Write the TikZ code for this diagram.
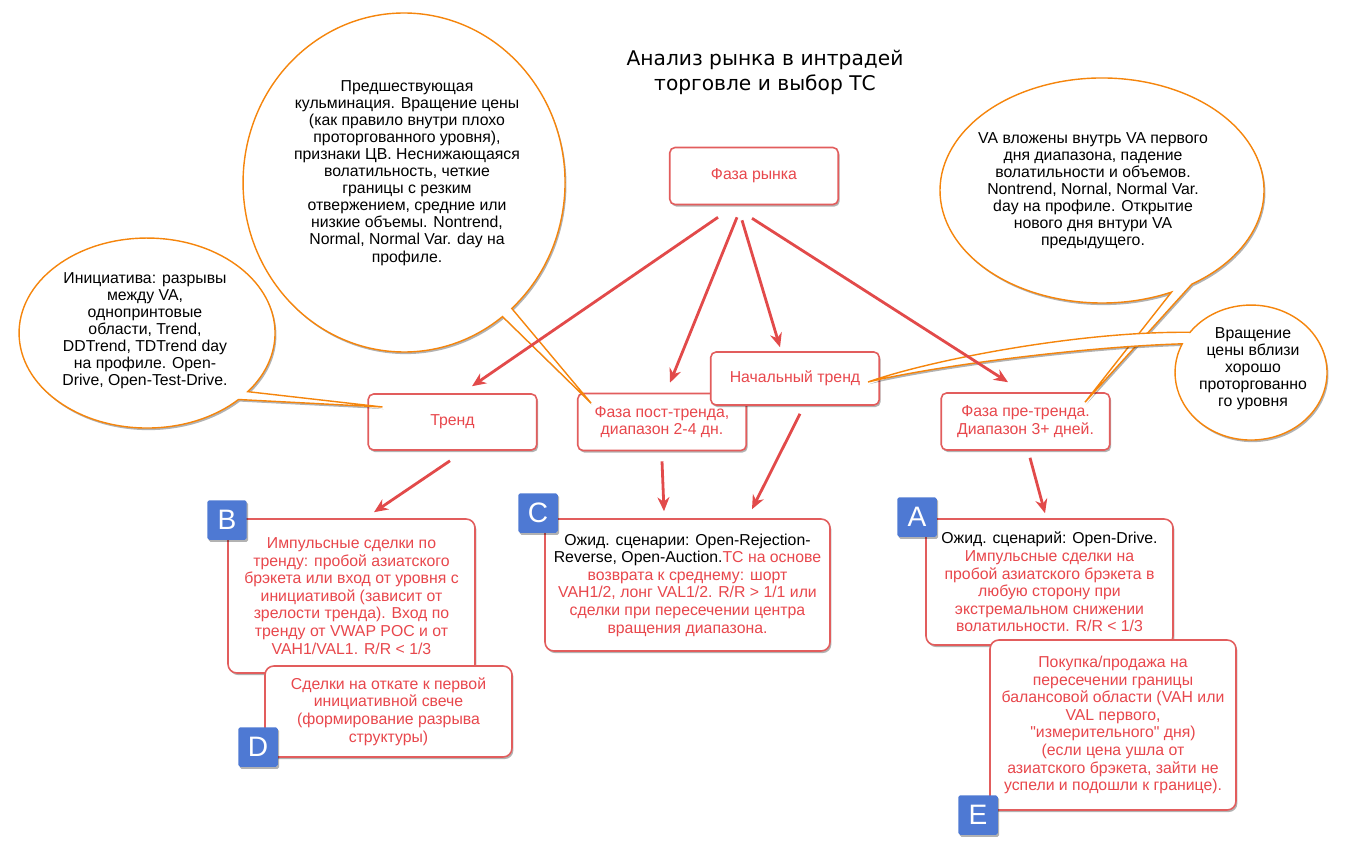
\documentclass[tikz,border=0pt]{standalone}
\usepackage{fontspec}
\setmainfont{Liberation Sans}[Ligatures=TeXOff]
\newfontfamily\titlefamily{DejaVu Sans}
\usetikzlibrary{arrows.meta,calc,shadows}
\definecolor{boxred}{HTML}{E25D5D}
\definecolor{textred}{HTML}{E8474C}
\definecolor{arrowred}{HTML}{E24A4A}
\definecolor{noteorange}{HTML}{F5850C}
\definecolor{tagblue}{HTML}{4E79D3}

\begin{document}
\begin{tikzpicture}[
    x=0.02cm, y=-0.02cm,
    font=\fontsize{9}{10}\selectfont,
    >={Stealth[length=2.8mm, width=2.4mm]},
    softshadow/.style={drop shadow={shadow xshift=0.8pt, shadow yshift=-1.2pt, opacity=0.3, fill=black}},
    phase/.style={draw=boxred, line width=0.9pt, rounded corners=3pt, fill=white, text=textred, align=center, minimum width=3.37cm, minimum height=1.14cm, softshadow},
    setup/.style={phase, rounded corners=5pt},
    tag/.style={fill=tagblue, text=white, rounded corners=1pt, minimum size=0.79cm, inner sep=0pt, font=\fontsize{16}{16}\selectfont, softshadow},
    bubble/.style={draw=noteorange, line width=0.8pt, fill=white, softshadow},
    note/.style={align=center, inner sep=0pt, font=\fontsize{9}{9.7}\selectfont},
    flow/.style={->, arrowred, line width=1.6pt},
]
    \useasboundingbox (0,0) rectangle (1365,848);

    % --- Title ---
    \node[font=\titlefamily\fontsize{11.5}{14.2}\selectfont, align=center] (title) at (765,72)
        {Анализ рынка в интрадей\\торговле и выбор ТС};

    % --- Market phases ---
    \node[phase] (market) at (754,176) {Фаза рынка};
    \node[phase, minimum height=1.12cm] (trend) at (452.5,422) {Тренд};
    \node[phase] (post) at (662,422) {Фаза пост-тренда,\\диапазон 2-4 дн.};
    \node[phase, minimum height=1.06cm] (init) at (795,378.5) {Начальный тренд};
    \node[phase] (pre) at (1025.5,421.5) {Фаза пре-тренда.\\Диапазон 3+ дней.};

    % --- Callouts ---
    \coordinate (trendtip) at ($(trend.west)+(15,-15)$);
    \coordinate (posttip) at ($(post.west)+(14,-19)$);
    \coordinate (pretip) at ($(pre.north)+(59.5,10)$);
    \coordinate (inittip) at ($(init.east)+(-12,3.5)$);

    \draw[bubble] (238.5,399.5) arc[start angle=44.4, end angle=398.1, x radius=128, y radius=95]
        -- (trendtip) -- cycle;
    \draw[bubble] (502.5,316.6) arc[start angle=52.3, end angle=408, x radius=161, y radius=169.5]
        -- (posttip) -- cycle;
    \draw[bubble] (1171.5,292.1) arc[start angle=64.6, end angle=416.3, x radius=162, y radius=112.5]
        -- (pretip) -- cycle;
    \draw[bubble] (inittip) .. controls (930,360) and (1080,331) .. (1190,332.3)
        arc[start angle=216.6, end angle=565.2, x radius=76, y radius=67.5]
        .. controls (1080,347) and (935,366) .. (inittip) -- cycle;

    \node[note] (trendnote) at (145,331) {Инициатива: разрывы\\между VA,\\однопринтовые\\области, Trend,\\DDTrend, TDTrend day\\на профиле. Open-\\Drive, Open-Test-Drive.};
    \node[note] (postnote) at (407,173) {Предшествующая\\кульминация. Вращение цены\\(как правило внутри плохо\\проторгованного уровня),\\признаки ЦВ. Неснижающаяся\\волатильность, четкие\\границы с резким\\отвержением, средние или\\низкие объемы. Nontrend,\\Normal, Normal Var. day на\\профиле.};
    \node[note] (prenote) at (1093,191) {VA вложены внутрь VA первого\\дня диапазона, падение\\волатильности и объемов.\\Nontrend, Nornal, Normal Var.\\day на профиле. Открытие\\нового дня внтури VA\\предыдущего.};
    \node[note] (initnote) at (1253,368.5) {Вращение\\цены вблизи\\хорошо\\проторгованно\\го уровня};

    % --- Trading setups ---
    \node[setup, minimum width=4.94cm, minimum height=3.08cm] (impulse) at (351.5,596)
        {Импульсные сделки по\\тренду: пробой азиатского\\брэкета или вход от уровня с\\инициативой (зависит от\\зрелости тренда). Вход по\\тренду от VWAP POC и от\\VAH1/VAL1. R/R < 1/3};
    \node[setup, minimum width=4.94cm, minimum height=1.82cm] (pullback) at (388.5,711.5)
        {Сделки на откате к первой\\инициативной свече\\(формирование разрыва\\структуры)};
    \node[setup, minimum width=5.7cm, minimum height=2.64cm] (revert) at (687.5,585)
        {{\color{black}Ожид. сценарии: Open-Rejection-}\\{\color{black}Reverse, Open-Auction.}ТС на основе\\возврата к среднему: шорт\\VAH1/2, лонг VAL1/2. R/R > 1/1 или\\сделки при пересечении центра\\вращения диапазона.};
    \node[setup, minimum width=4.94cm, minimum height=2.52cm] (drive) at (1049.5,582)
        {{\color{black}Ожид. сценарий: Open-Drive.}\\Импульсные сделки на\\пробой азиатского брэкета в\\любую сторону при\\экстремальном снижении\\волатильности. R/R < 1/3};
    \node[setup, minimum width=4.92cm, minimum height=3.4cm] (balance) at (1113,725)
        {Покупка/продажа на\\пересечении границы\\балансовой области (VAH или\\VAL первого,\\"измерительного" дня)\\(если цена ушла от\\азиатского брэкета, зайти не\\успели и подошли к границе).};

    % --- Tags ---
    \node[tag] (tagB) at (227,520) {B};
    \node[tag] (tagD) at (258,747) {D};
    \node[tag] (tagC) at (538,513) {C};
    \node[tag] (tagA) at (917,517) {A};
    \node[tag] (tagE) at (978,815) {E};

    % --- Arrows ---
    \draw[flow] ($(market.south)+(-36,12)$) -- ($(trend.north)+(19.5,-7)$);
    \draw[flow] ($(market.south)+(-17,12)$) -- ($(post.north)+(8,-10)$);
    \draw[flow] ($(market.south)+(-12,15)$) -- ($(init.north)+(-15,-4)$);
    \draw[flow] ($(market.south)+(-2,13)$) -- ($(pre.north)+(-17.5,-10)$);
    \draw[flow] ($(trend.south)+(-2.5,10)$) -- ($(impulse.north)+(22.5,-6)$);
    \draw[flow] ($(post.south)+(0,10)$) -- ($(revert.north)+(-23.5,-7)$);
    \draw[flow] ($(init.south)+(5,8)$) -- ($(revert.north)+(64.5,-9)$);
    \draw[flow] ($(pre.south)+(4.5,7)$) -- ($(drive.north)+(-4.5,-5)$);

\end{tikzpicture}
\end{document}
